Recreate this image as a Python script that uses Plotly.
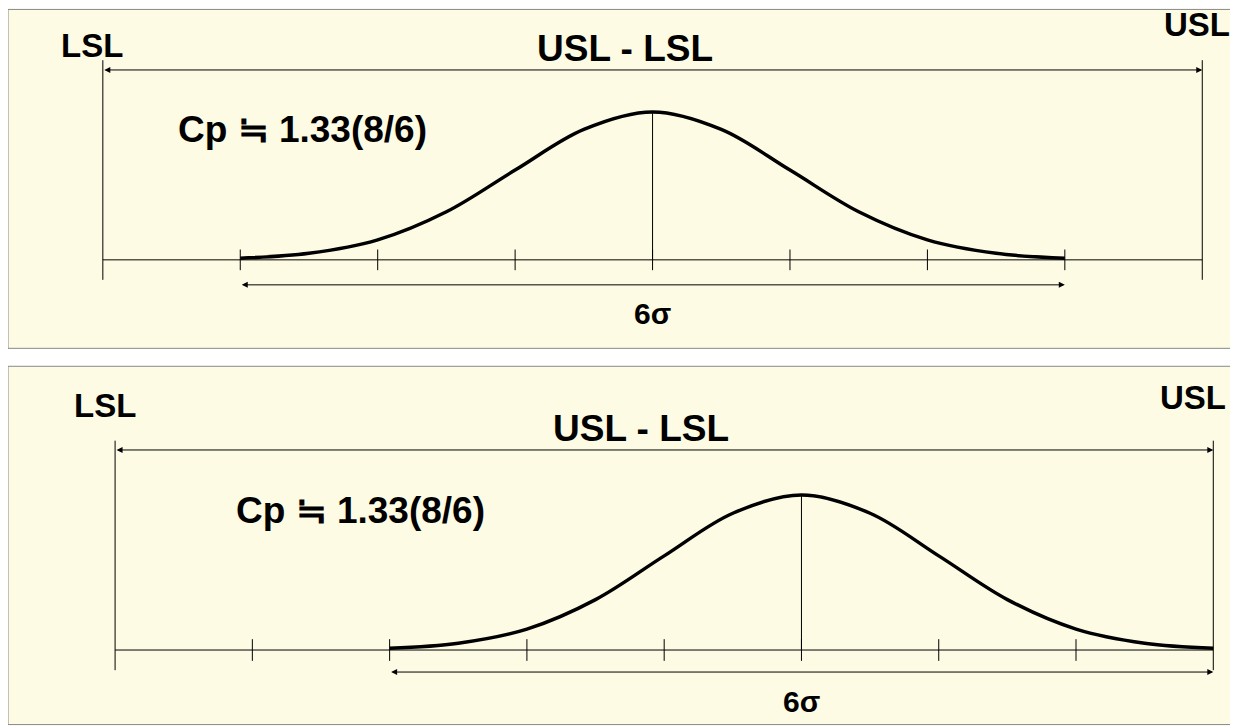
import plotly.graph_objects as go

# data (in sigma units)
LSL, USL = -4, 4
means = [0, 1]
sigma = 1
z_pts = [-3, -2.5, -2, -1.5, -1, -0.5, 0, 0.5, 1, 1.5, 2, 2.5, 3]
h_pts = [0.011, 0.044, 0.135, 0.325, 0.607, 0.882, 1.0, 0.882, 0.607, 0.325, 0.135, 0.044, 0.011]
ticks = [-3, -2, -1, 0, 1, 2, 3]
cp_text = "Cp ≒ 1.33(8/6)"

fig = go.Figure()
panels = [
    dict(xa="x", ya="y", xr=[-4.69, 4.26], yr=[-0.608, 1.703], dom=[0.524, 1.0],
         arr=1.284, six=-0.169, six_t=-0.36, lsl_t=(-4.08, 1.45), usl_t=(3.96, 1.59),
         top_t=(-0.2, 1.43), cp=(-2.55, 0.88), vtop=1.35, vbot=-0.135),
    dict(xa="x2", ya="y2", xr=[-4.78, 4.18], yr=[-0.49, 1.839], dom=[0.0, 0.503],
         arr=1.29, six=-0.142, six_t=-0.33, lsl_t=(-4.07, 1.58), usl_t=(3.85, 1.63),
         top_t=(-0.17, 1.43), cp=(-2.21, 0.9), vtop=1.35, vbot=-0.13),
]
shapes, annots = [], []
F = dict(family="Liberation Sans, Arial", color="black")
for i, (p, m) in enumerate(zip(panels, means)):
    xa, ya = p["xa"], p["ya"]
    xs = [m + z * sigma for z in z_pts]
    fig.add_trace(go.Scatter(x=xs, y=h_pts, mode="lines", line=dict(color="black", width=3.5, shape="spline"),
                             xaxis=xa, yaxis=ya, hoverinfo="skip", showlegend=False))
    d = p["dom"]
    shapes.append(dict(type="rect", xref="paper", yref="paper", x0=0.0, x1=0.999, y0=d[0]+0.002, y1=d[1]-0.002,
                       fillcolor="#fdfbe3", line=dict(color="#888", width=1), layer="below"))
    L = dict(color="black", width=1)
    shapes.append(dict(type="line", xref=xa, yref=ya, x0=LSL, x1=USL, y0=0, y1=0, line=L))
    for sx in (LSL, USL):
        shapes.append(dict(type="line", xref=xa, yref=ya, x0=sx, x1=sx, y0=p["vbot"], y1=p["vtop"], line=L))
    shapes.append(dict(type="line", xref=xa, yref=ya, x0=m, x1=m, y0=0, y1=1, line=L))
    for t in ticks:
        shapes.append(dict(type="line", xref=xa, yref=ya, x0=t, x1=t, y0=-0.07, y1=0.07, line=L))
    for (a, b, yy) in [(LSL, USL, p["arr"]), (m - 3 * sigma, m + 3 * sigma, p["six"])]:
        annots.append(dict(xref=xa, yref=ya, axref=xa, ayref=ya, x=b, y=yy, ax=a, ay=yy, text="",
                           showarrow=True, arrowhead=2, arrowside="end+start", arrowsize=1.2, arrowwidth=1, arrowcolor="black"))
    annots += [
        dict(xref=xa, yref=ya, x=p["lsl_t"][0], y=p["lsl_t"][1], text="<b>LSL</b>", showarrow=False, font=dict(size=33, **F)),
        dict(xref=xa, yref=ya, x=p["usl_t"][0], y=p["usl_t"][1], text="<b>USL</b>", showarrow=False, font=dict(size=33, **F)),
        dict(xref=xa, yref=ya, x=p["top_t"][0], y=p["top_t"][1], text="<b>USL - LSL</b>", showarrow=False, font=dict(size=37, **F)),
        dict(xref=xa, yref=ya, x=p["cp"][0], y=p["cp"][1], text="<b>" + cp_text + "</b>", showarrow=False, font=dict(size=37, **F)),
        dict(xref=xa, yref=ya, x=m, y=p["six_t"], text="<b>6σ</b>", showarrow=False, font=dict(size=30, **F)),
    ]

ax_common = dict(visible=False, fixedrange=True)
fig.update_layout(
    width=1230, height=718, margin=dict(l=0, r=0, t=0, b=0),
    paper_bgcolor="white", plot_bgcolor="rgba(0,0,0,0)",
    xaxis=dict(range=panels[0]["xr"], domain=[0, 1], anchor="y", **ax_common),
    yaxis=dict(range=panels[0]["yr"], domain=panels[0]["dom"], anchor="x", **ax_common),
    xaxis2=dict(range=panels[1]["xr"], domain=[0, 1], anchor="y2", **ax_common),
    yaxis2=dict(range=panels[1]["yr"], domain=panels[1]["dom"], anchor="x2", **ax_common),
    shapes=shapes, annotations=annots,
)
fig.write_html("out.html")
